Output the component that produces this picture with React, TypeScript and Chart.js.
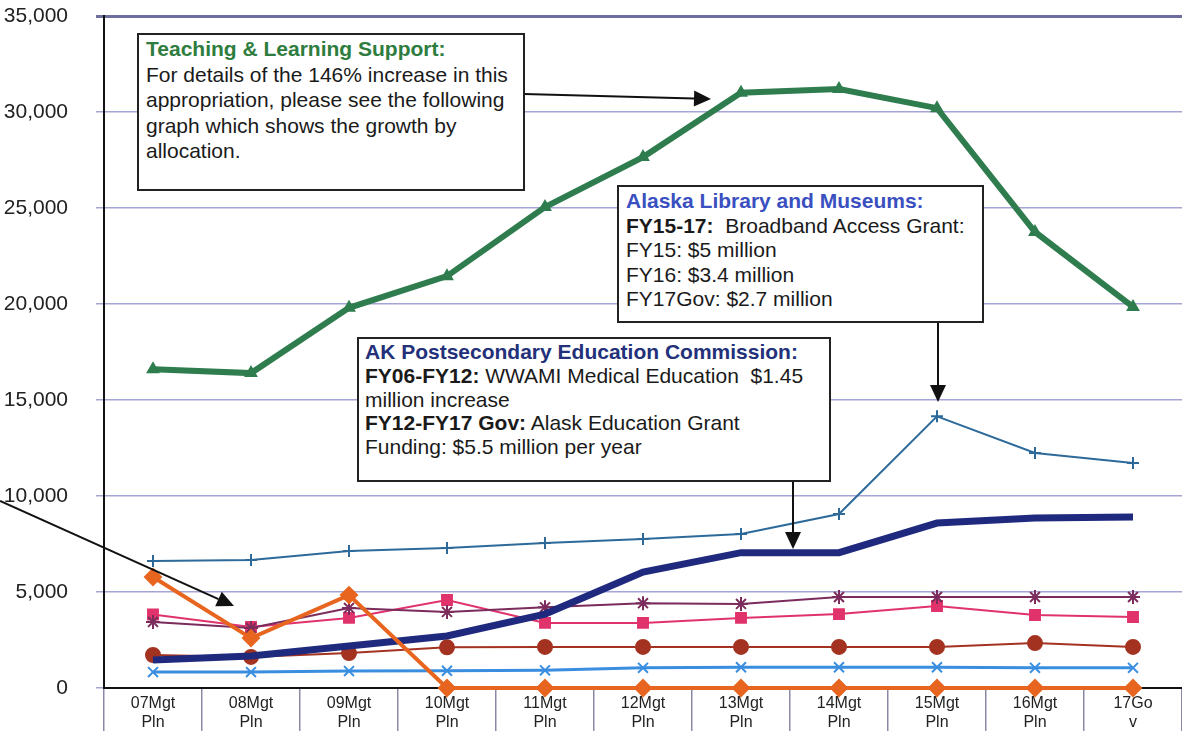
import React, { useEffect, useRef } from "react";
import { Chart, registerables } from "chart.js";

Chart.register(...registerables);

const categories: string[][] = [
  ["07Mgt", "Pln"], ["08Mgt", "Pln"], ["09Mgt", "Pln"], ["10Mgt", "Pln"], ["11Mgt", "Pln"],
  ["12Mgt", "Pln"], ["13Mgt", "Pln"], ["14Mgt", "Pln"], ["15Mgt", "Pln"], ["16Mgt", "Pln"], ["17Go", "v"],
];

const teachingLearning = [16600, 16400, 19800, 21450, 25050, 27650, 31000, 31200, 30200, 23750, 19850];
const libraryMuseums = [6620, 6670, 7130, 7290, 7550, 7760, 8020, 9060, 14150, 12240, 11720];
const postsecondary = [1460, 1670, 2190, 2710, 3850, 6040, 7050, 7050, 8590, 8850, 8900];
const purpleSeries = [3440, 3130, 4170, 3960, 4200, 4420, 4380, 4740, 4740, 4740, 4740];
const pinkSeries = [3830, 3180, 3650, 4580, 3390, 3390, 3650, 3850, 4270, 3800, 3700];
const brownSeries = [1720, 1620, 1820, 2120, 2140, 2140, 2140, 2140, 2140, 2340, 2140];
const lightBlueSeries = [830, 830, 880, 900, 920, 1050, 1080, 1080, 1080, 1050, 1050];
const orangeSeries = [5780, 2600, 4840, 0, 0, 0, 0, 0, 0, 0, 0];

const yTicks = [0, 5000, 10000, 15000, 20000, 25000, 30000, 35000];

const FONT = "'Liberation Sans', Arial, sans-serif";

// annotation arrows: [x1, y1, x2(tip), y2(tip)]
const arrows: number[][] = [
  [524, 94, 711, 99],
  [938, 322, 938, 402],
  [793, 481, 793, 549],
  [0, 501, 234, 606],
];

const arrowPlugin = {
  id: "arrows",
  afterDraw(chart: any) {
    const ctx = chart.ctx;
    ctx.save();
    ctx.strokeStyle = "#111";
    ctx.fillStyle = "#111";
    ctx.lineWidth = 2;
    for (const [x1, y1, x2, y2] of arrows) {
      const ang = Math.atan2(y2 - y1, x2 - x1);
      const hl = 17, hw = 8;
      const bx = x2 - hl * Math.cos(ang);
      const by = y2 - hl * Math.sin(ang);
      ctx.beginPath();
      ctx.moveTo(x1, y1);
      ctx.lineTo(bx, by);
      ctx.stroke();
      ctx.beginPath();
      ctx.moveTo(x2, y2);
      ctx.lineTo(bx + hw * Math.sin(ang), by - hw * Math.cos(ang));
      ctx.lineTo(bx - hw * Math.sin(ang), by + hw * Math.cos(ang));
      ctx.closePath();
      ctx.fill();
    }
    ctx.restore();
  },
};

export default function App() {
  const ref = useRef<HTMLCanvasElement | null>(null);

  useEffect(() => {
    document.body.style.margin = "0";
    if (!ref.current) return;
    const mk = (label: string, data: number[], color: string, width: number, style: any, radius: number, order: number) => ({
      label,
      data,
      borderColor: color,
      backgroundColor: color,
      borderWidth: width,
      pointStyle: style,
      pointRadius: radius,
      pointBorderColor: color,
      pointBackgroundColor: color,
      pointBorderWidth: 2,
      tension: 0,
      order,
      clip: false as any,
    });
    const chart = new Chart(ref.current, {
      type: "line",
      data: {
        labels: categories,
        datasets: [
          mk("Orange", orangeSeries, "#e8651f", 4, "rectRot", 8, 1),
          mk("AK Postsecondary Education Commission", postsecondary, "#1f2a7e", 7, "circle", 0, 2),
          mk("Teaching & Learning Support", teachingLearning, "#2f7d4e", 6, "triangle", 6, 3),
          mk("Alaska Library and Museums", libraryMuseums, "#2d6a9a", 2, "cross", 6, 4),
          mk("Purple", purpleSeries, "#7b2c5c", 2, "star", 7, 5),
          mk("Pink", pinkSeries, "#e0336c", 2, "rect", 7, 6),
          mk("Brown", brownSeries, "#a33220", 2, "circle", 7, 7),
          mk("Light blue", lightBlueSeries, "#3a8ee0", 3, "crossRot", 7, 8),
        ],
      },
      options: {
        responsive: false,
        animation: false,
        layout: { padding: { top: 16, right: 0, left: 0, bottom: 0 } },
        plugins: { legend: { display: false }, tooltip: { enabled: false }, title: { display: false } },
        scales: {
          x: {
            offset: true,
            grid: { offset: true, drawOnChartArea: false, drawTicks: true, tickLength: 43, color: "#8a8aa8", lineWidth: 1.5 },
            border: { display: true, color: "#111", width: 2 },
            ticks: { font: { family: FONT, size: 16 }, color: "#222", padding: -37, maxRotation: 0, autoSkip: false },
            afterFit: (s: any) => { s.height = 43; s.paddingLeft = 0; s.paddingRight = 0; },
          },
          y: {
            min: 0,
            max: 35000,
            afterBuildTicks: (s: any) => { s.ticks = yTicks.map((v) => ({ value: v })); },
            grid: {
              color: (c: any) => (c.tick && c.tick.value === 35000 ? "#6e6e9c" : "#a4a4d6"),
              lineWidth: (c: any) => (c.tick && c.tick.value === 35000 ? 3 : 1.5),
              tickLength: 8,
            },
            border: { display: true, color: "#111", width: 2 },
            ticks: {
              font: { family: FONT, size: 21 },
              color: "#222",
              padding: 28,
              callback: (v: any) => Number(v).toLocaleString("en-US"),
            },
            afterFit: (s: any) => { s.width = 104; s.paddingTop = 0; s.paddingBottom = 0; },
          },
        },
      },
      plugins: [arrowPlugin],
    });
    return () => chart.destroy();
  }, []);

  const boxBase: React.CSSProperties = {
    position: "absolute",
    background: "#fff",
    border: "2px solid #222",
    boxSizing: "border-box",
    fontFamily: FONT,
    fontSize: 21,
    color: "#1a1a1a",
    whiteSpace: "nowrap",
  };

  return (
    <div style={{ position: "fixed", left: 0, top: 0, width: 1182, height: 731, background: "#fff", overflow: "hidden" }}>
      <canvas ref={ref} width={1192} height={731} style={{ position: "absolute", left: 0, top: 0 }} />
      <div style={{ ...boxBase, left: 137, top: 33, width: 388, height: 158, padding: "1px 0 0 7px", lineHeight: "25.5px" }}>
        <div style={{ color: "#2e7d3e", fontWeight: "bold" }}>Teaching &amp; Learning Support:</div>
        <div>For details of the 146% increase in this</div>
        <div>appropriation, please see the following</div>
        <div>graph which shows the growth by</div>
        <div>allocation.</div>
      </div>
      <div style={{ ...boxBase, left: 617, top: 185, width: 367, height: 138, padding: "2px 0 0 7px", lineHeight: "24.5px" }}>
        <div style={{ color: "#3a50c0", fontWeight: "bold" }}>Alaska Library and Museums:</div>
        <div><b>FY15-17:</b>&nbsp; Broadband Access Grant:</div>
        <div>FY15: $5 million</div>
        <div>FY16: $3.4 million</div>
        <div>FY17Gov: $2.7 million</div>
      </div>
      <div style={{ ...boxBase, left: 357, top: 337, width: 474, height: 145, padding: "1px 0 0 6px", lineHeight: "23.8px" }}>
        <div style={{ color: "#23307a", fontWeight: "bold" }}>AK Postsecondary Education Commission:</div>
        <div><b>FY06-FY12:</b> WWAMI Medical Education&nbsp; $1.45</div>
        <div>million increase</div>
        <div><b>FY12-FY17 Gov:</b> Alask Education Grant</div>
        <div>Funding: $5.5 million per year</div>
      </div>
    </div>
  );
}
